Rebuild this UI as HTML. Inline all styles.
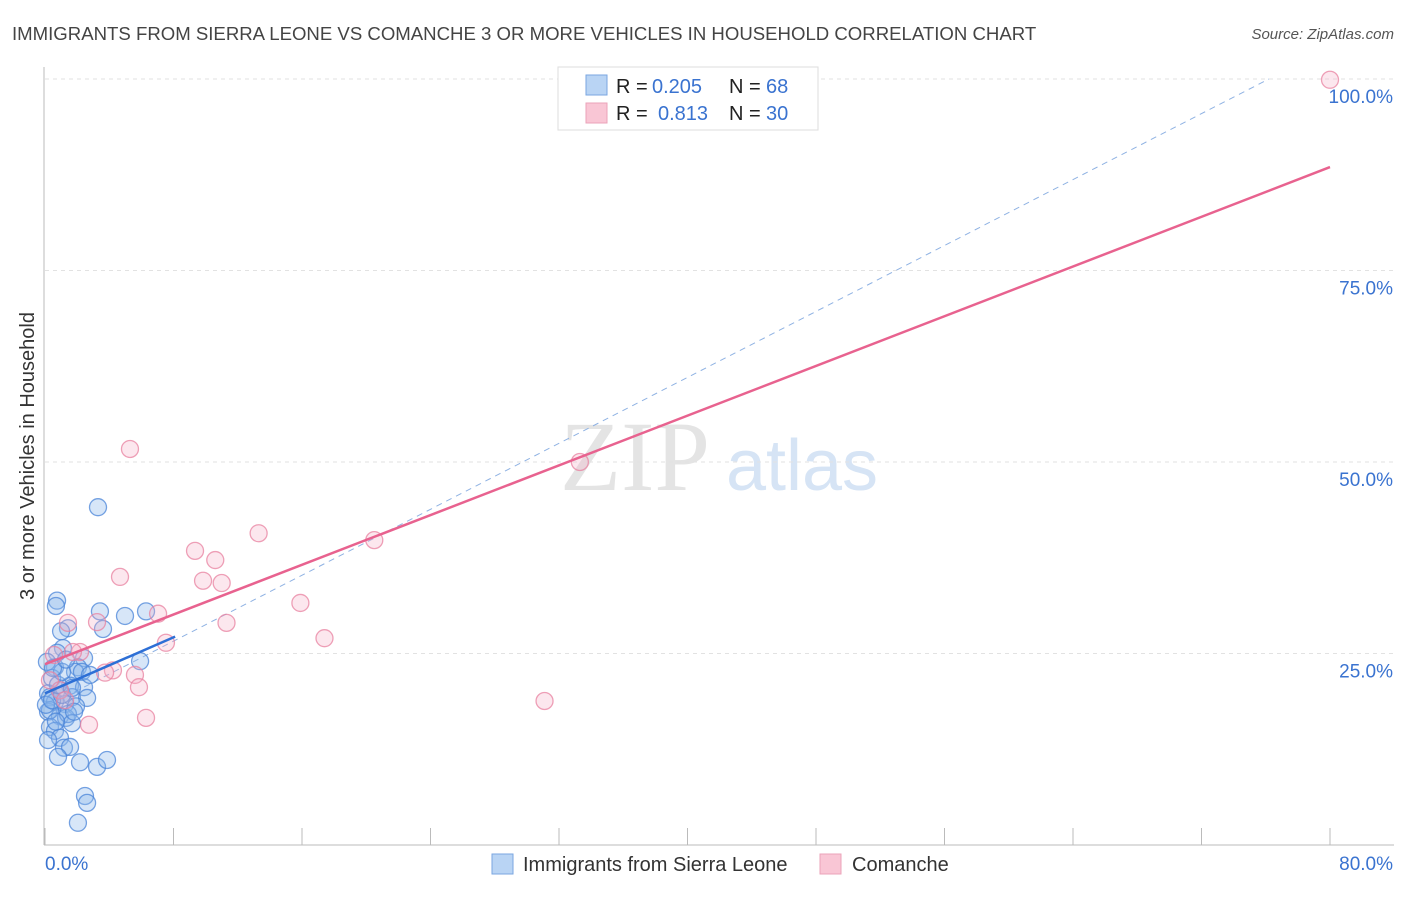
<!DOCTYPE html>
<html><head><meta charset="utf-8"><style>
body{margin:0;background:#fff;font-family:"Liberation Sans",sans-serif}
</style></head><body>
<svg id="chart" width="1406" height="892" xmlns="http://www.w3.org/2000/svg">
<text x="12" y="40" font-size="18.6" fill="#444">IMMIGRANTS FROM SIERRA LEONE VS COMANCHE 3 OR MORE VEHICLES IN HOUSEHOLD CORRELATION CHART</text>
<text x="1394" y="39" font-size="15" fill="#555" font-style="italic" text-anchor="end">Source: ZipAtlas.com</text>
<text x="635" y="490" font-size="100" fill="#e4e4e4" font-family="Liberation Serif,serif" text-anchor="middle">ZIP</text>
<text x="802" y="490" font-size="72" fill="#d6e4f5" text-anchor="middle">atlas</text>
<text x="34" y="456" font-size="20" fill="#333" text-anchor="middle" transform="rotate(-90 34 456)">3 or more Vehicles in Household</text>
<g id="grid"></g><g id="lines"></g><g id="pts"></g>
<g>
<rect x="558" y="67" width="260" height="63" fill="#fff" stroke="#ddd"/>
<rect x="586" y="75" width="21" height="20" fill="#b9d4f4" stroke="#7aa6e0"/>
<rect x="586" y="103" width="21" height="20" fill="#f9c6d5" stroke="#eba3b9"/>
<text x="616" y="93" font-size="20" fill="#222">R =</text>
<text x="652" y="93" font-size="20" fill="#3a73d0">0.205</text>
<text x="729" y="93" font-size="20" fill="#222">N =</text>
<text x="766" y="93" font-size="20" fill="#3a73d0">68</text>
<text x="616" y="120" font-size="20" fill="#222">R =</text>
<text x="658" y="120" font-size="20" fill="#3a73d0">0.813</text>
<text x="729" y="120" font-size="20" fill="#222">N =</text>
<text x="766" y="120" font-size="20" fill="#3a73d0">30</text>
</g>
<g>
<rect x="492" y="854" width="21" height="20" fill="#b9d4f4" stroke="#7aa6e0"/>
<text x="523" y="871" font-size="20" fill="#333">Immigrants from Sierra Leone</text>
<rect x="820" y="854" width="21" height="20" fill="#f9c6d5" stroke="#eba3b9"/>
<text x="852" y="871" font-size="20" fill="#333">Comanche</text>
</g>
</svg>
<script>
const blueX=[0.75,0.68,3.3,3.42,4.98,6.29,3.61,1.43,1.0,1.12,0.75,2.43,0.62,2.05,1.87,2.3,5.92,0.44,1.56,2.43,0.93,0.19,0.31,1.68,2.62,0.62,1.25,1.93,0.19,0.93,1.31,1.43,1.68,0.31,0.62,0.93,1.18,1.56,0.81,2.18,3.24,3.86,2.49,2.62,2.05,0.31,0.06,0.44,1.06,0.81,1.68,1.06,0.12,0.5,1.31,2.8,1.81,0.68,0.19];
const blueY=[31.9,31.2,44.1,30.5,29.9,30.5,28.2,28.3,27.9,25.7,25.1,24.4,23.2,23.2,22.6,22.6,24.0,21.8,20.8,20.6,20.2,19.8,19.3,19.3,19.2,18.7,18.4,18.1,17.4,16.8,16.6,17.1,15.9,15.4,14.9,14.0,12.7,12.8,11.5,10.8,10.2,11.1,6.4,5.5,2.9,17.6,18.3,18.9,19.6,20.9,20.5,22.6,23.9,23.1,24.2,22.2,17.4,16.1,13.7];
const pinkX=[80,33.3,5.29,20.5,13.3,9.34,10.6,9.84,11.0,4.67,7.04,15.9,11.3,3.24,1.43,17.4,7.53,2.18,1.74,0.56,4.23,3.74,5.6,5.85,31.1,6.29,2.74,0.93,1.25,0.31];
const pinkY=[99.9,50.0,51.7,39.8,40.7,38.4,37.2,34.5,34.2,35.0,30.2,31.6,29.0,29.1,29.0,27.0,26.4,25.2,25.2,24.8,22.8,22.5,22.2,20.6,18.8,16.6,15.7,20.2,18.9,21.5];
const yTicks=[25,50,75,100];
const yTickLabels=["25.0%","50.0%","75.0%","100.0%"];
const xTicks=[0,8,16,24,32,40,48,56,64,72,80];
const blueTrend=[[0,19.8],[8.1,27.2]];
const pinkTrend=[[0,23.6],[80,88.5]];
const diagTrend=[[0,18.0],[76.2,100]];
const NS="http://www.w3.org/2000/svg";
const sx=v=>45+v*(1330-45)/80, sy=v=>845-v*7.66;
function mk(tag,at,parent){const e=document.createElementNS(NS,tag);for(const k in at)e.setAttribute(k,at[k]);parent.appendChild(e);return e;}
const grid=document.getElementById('grid'),lines=document.getElementById('lines'),pts=document.getElementById('pts');
yTicks.forEach((t,i)=>{
 const l=mk('line',{x1:45,x2:1394,y1:sy(t),y2:sy(t),stroke:'#e2e2e2','stroke-dasharray':'4,4'},grid);
 
 
 const tx=mk('text',{x:1393,y:sy(t)+24,'font-size':19,fill:'#3a73d0','text-anchor':'end'},grid);
 tx.textContent=yTickLabels[i];
 
 
});
const ax=mk('line',{x1:44,x2:44,y1:67,y2:845,stroke:'#bbb'},grid);


const bx=mk('line',{x1:44,x2:1394,y1:845,y2:845,stroke:'#bbb'},grid);


xTicks.forEach(t=>{
 const l=mk('line',{x1:sx(t),x2:sx(t),y1:828,y2:845,stroke:'#bbb'},grid);
 
 
});
const xl0=mk('text',{x:45,y:870,'font-size':19,fill:'#3a73d0'},grid);xl0.textContent='0.0%';


const xl1=mk('text',{x:1393,y:870,'font-size':19,fill:'#3a73d0','text-anchor':'end'},grid);xl1.textContent='80.0%';


const dl=mk('line',{x1:sx(diagTrend[0][0]),y1:sy(diagTrend[0][1]),x2:sx(diagTrend[1][0]),y2:sy(diagTrend[1][1]),stroke:'#8fb2e3','stroke-width':1,'stroke-dasharray':'6,5'},lines);


blueX.forEach((x,i)=>{
 const c=mk('circle',{cx:sx(x),cy:sy(blueY[i]),r:8.5,fill:'rgba(140,182,236,0.35)',stroke:'rgba(74,132,216,0.75)','stroke-width':1.3},pts);
 
 
});
pinkX.forEach((x,i)=>{
 const c=mk('circle',{cx:sx(x),cy:sy(pinkY[i]),r:8.5,fill:'rgba(246,176,198,0.3)',stroke:'rgba(232,130,160,0.75)','stroke-width':1.3},pts);
 
 
});
const pl=mk('line',{x1:sx(pinkTrend[0][0]),y1:sy(pinkTrend[0][1]),x2:sx(pinkTrend[1][0]),y2:sy(pinkTrend[1][1]),stroke:'#e8628f','stroke-width':2.5},pts);


const bl=mk('line',{x1:sx(blueTrend[0][0]),y1:sy(blueTrend[0][1]),x2:sx(blueTrend[1][0]),y2:sy(blueTrend[1][1]),stroke:'#2d6fd6','stroke-width':2.5},pts);


</script>
</body></html>
